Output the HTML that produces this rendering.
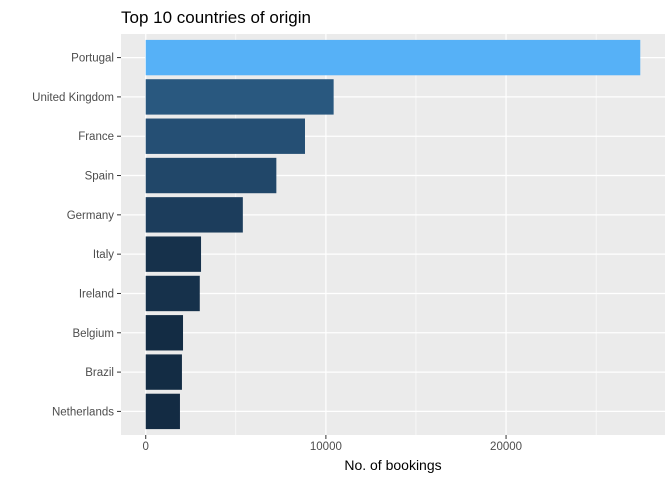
<!DOCTYPE html>
<html><head><meta charset="utf-8"><style>
body{margin:0;background:#fff;}
svg text{font-family:"Liberation Sans",Arial,sans-serif;}
</style></head><body>
<svg id="chart" width="672" height="480" xmlns="http://www.w3.org/2000/svg">
<text x="121" y="23" font-size="17" fill="#000">Top 10 countries of origin</text>
<rect x="121" y="34" width="544" height="401" fill="#EBEBEB"/>
<g id="grid"></g><g id="bars"></g><g id="axes"></g>
<text x="393" y="470" font-size="14" text-anchor="middle" fill="#000">No. of bookings</text>
</svg>
<script>
const categories = ["Portugal","United Kingdom","France","Spain","Germany","Italy","Ireland","Belgium","Brazil","Netherlands"];
const values = [27450,10430,8840,7250,5390,3070,3000,2070,2010,1900];
const xTicks = [0,10000,20000];
const xTickLabels = ["0","10000","20000"];
const minorTicks = [5000,15000,25000];

const ns="http://www.w3.org/2000/svg";
const pL=121,pR=665,pT=34,pB=435;
const maxV=Math.max(...values);
const dMin=-0.05*maxV, dMax=maxV*1.05;
const x=v=>pL+(v-dMin)/(dMax-dMin)*(pR-pL);
const step=(pB-pT)/(categories.length+0.2);
const y=i=>pT+step*(0.6+i);
function mk(t,a,p){const e=document.createElementNS(ns,t);for(const k in a)e.setAttribute(k,a[k]);p.appendChild(e);return e;}
const grid=document.getElementById('grid'),bars=document.getElementById('bars'),axes=document.getElementById('axes');
minorTicks.forEach(v=>{const l=mk('line',{x1:x(v),x2:x(v),y1:pT,y2:pB,stroke:'#fff','stroke-width':0.6},grid);

});
xTicks.forEach((v,i)=>{const l=mk('line',{x1:x(v),x2:x(v),y1:pT,y2:pB,stroke:'#fff','stroke-width':1.2},grid);


const t=mk('line',{x1:x(v),x2:x(v),y1:pB,y2:pB+4,stroke:'#333','stroke-width':1},axes);


const tx=mk('text',{x:x(v),y:pB+15,'font-size':11.5,'text-anchor':'middle',fill:'#4D4D4D'},axes);tx.textContent=xTickLabels[i];

});
const lo=[19,43,67],hi=[86,177,247];
categories.forEach((c,i)=>{const cy=y(i);
const g=mk('line',{x1:pL,x2:pR,y1:cy,y2:cy,stroke:'#fff','stroke-width':1.2},grid);


const f=(values[i]-Math.min(...values))/(maxV-Math.min(...values));
const col='rgb('+lo.map((a,k)=>Math.round(a+(hi[k]-a)*f)).join(',')+')';
const h=step*0.9;
const b=mk('rect',{x:x(0),y:cy-h/2,width:x(values[i])-x(0),height:h,fill:col},bars);


const t=mk('line',{x1:pL-4,x2:pL,y1:cy,y2:cy,stroke:'#333','stroke-width':1},axes);


const tx=mk('text',{x:pL-7,y:cy+4,'font-size':11.5,'text-anchor':'end',fill:'#4D4D4D'},axes);tx.textContent=c;

});
</script>
</body></html>
